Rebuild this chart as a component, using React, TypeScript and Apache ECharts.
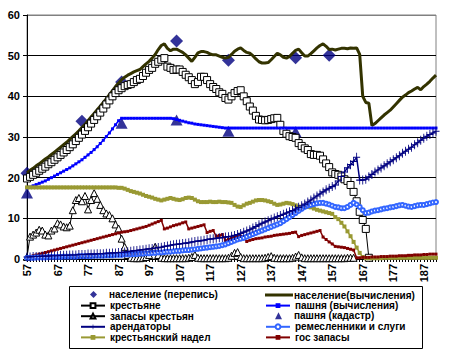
import React, { useEffect, useRef } from "react";
import * as echarts from "echarts";

const years: string[] = Array.from({ length: 135 }, (_, i) => String(57 + i));

// население (перепись)
const censusYears = ["57", "75", "88", "106", "123", "145", "156"];
const censusValues = [21.1, 33.9, 43.5, 53.6, 48.9, 49.5, 50.1];

// пашня (кадастр)
const cadastreYears = ["57", "88", "106", "123", "145"];
const cadastreValues = [16.2, 33.4, 34.2, 31.4, 31.3];

// население(вычисления)
const popCalc = [
  21.2, 21.8, 22.3, 22.9, 23.4, 24.0, 24.6, 25.1, 25.7, 26.3,
  26.9, 27.5, 28.1, 28.7, 29.4, 30.1, 30.8, 31.5, 32.3, 33.1,
  34.0, 34.9, 35.8, 36.7, 37.6, 38.5, 39.4, 40.4, 41.4, 42.4,
  43.3, 44.1, 44.7, 45.2, 45.6, 46.0, 46.3, 46.6, 47.3, 48.0,
  48.6, 49.4, 50.3, 51.5, 52.5, 52.9, 51.8, 51.2, 51.6, 51.6,
  51.2, 50.8, 50.2, 49.4, 48.6, 49.6, 50.7, 51.0, 51.0, 50.8,
  50.4, 50.2, 50.2, 49.9, 49.6, 49.4, 49.6, 50.3, 51.1, 51.6,
  51.9, 51.3, 50.8, 50.6, 50.0, 49.2, 48.5, 48.2, 48.2, 48.3,
  49.0, 49.8, 50.6, 50.2, 49.6, 49.4, 49.8, 50.6, 51.3, 51.6,
  50.7, 49.9, 49.9, 50.5, 51.2, 51.9, 52.5, 52.9, 52.3, 51.5,
  51.6, 51.4, 51.6, 51.8, 51.8, 51.7, 51.9, 51.8, 51.9, 50.3,
  40.0, 38.5, 38.3, 32.8, 33.3, 34.0, 34.7, 35.4, 36.0, 36.6,
  37.4, 38.2, 39.0, 39.8, 40.3, 40.9, 41.3, 41.8, 42.2, 41.6,
  42.4, 43.0, 43.7, 44.5, 45.2,
];

// крестьяне
const peasants: (number | null)[] = [
  19.8, 20.2, 20.7, 21.2, 21.7, 22.2, 22.7, 23.3, 23.8, 24.4,
  25.0, 25.6, 26.2, 26.8, 27.5, 28.2, 29.0, 29.8, 30.6, 31.5,
  32.4, 33.3, 34.2, 35.1, 36.0, 37.0, 38.0, 39.0, 40.0, 40.8,
  41.5, 42.0, 42.5, 42.8, 43.0, 43.5, 44.0, 44.3, 45.0, 45.8,
  46.5, 47.0, 48.0, 48.5, 49.0, 49.4, 47.3, 47.0, 46.5, 46.6,
  46.6, 46.0, 45.3, 44.7, 44.0, 43.0, 43.5, 44.8, 44.8, 44.0,
  43.0, 42.3, 41.8, 41.0, 40.6, 39.6, 39.2, 40.0, 40.8, 41.3,
  41.5, 40.0, 38.8, 37.5, 36.5, 35.2, 34.3, 34.2, 34.1, 34.2,
  34.4, 34.6, 34.7, 33.0, 31.5, 30.8, 30.2, 30.0, 29.8, 28.5,
  27.8, 27.2, 26.8, 25.8, 25.6, 25.6, 25.4, 24.5, 23.5, 22.6,
  21.3, 20.9, 20.7, 20.3, 19.6, 19.2, 18.2, 16.5, 14.2, 11.6,
  9.6, 7.4, 0.3,
];

// пашня (вычисления)
const plowCalc = [
  17.4, 17.7, 18.0, 18.3, 18.6, 18.9, 19.2, 19.6, 20.0, 20.4,
  20.8, 21.2, 21.6, 22.0, 22.4, 22.9, 23.4, 23.9, 24.4, 25.0,
  25.6, 26.2, 26.9, 27.6, 28.4, 29.2, 30.1, 31.0, 32.0, 33.0,
  34.0, 34.6, 34.6, 34.6, 34.6, 34.6, 34.6, 34.6, 34.6, 34.6,
  34.6, 34.6, 34.6, 34.6, 34.6, 34.6, 34.6, 34.6, 34.5, 34.3,
  34.1, 33.9, 33.7, 33.5, 33.4, 33.2, 33.1, 33.0, 32.9, 32.8,
  32.7, 32.6, 32.5, 32.4, 32.3, 32.2, 32.2, 32.2, 32.2, 32.2,
  32.2, 32.2, 32.2, 32.2, 32.2, 32.2, 32.2, 32.2, 32.2, 32.2,
  32.2, 32.2, 32.2, 32.2, 32.2, 32.2, 32.2, 32.2, 32.2, 32.2,
  32.2, 32.2, 32.2, 32.2, 32.2, 32.2, 32.2, 32.2, 32.2, 32.2,
  32.2, 32.2, 32.2, 32.2, 32.2, 32.2, 32.2, 32.2, 32.2, 32.2,
  32.2, 32.2, 32.2, 32.2, 32.2, 32.2, 32.2, 32.2, 32.2, 32.2,
  32.2, 32.2, 32.2, 32.2, 32.2, 32.2, 32.2, 32.2, 32.2, 32.2,
  32.2, 32.2, 32.2, 32.2, 32.2,
];

// запасы крестьян
const peasantStock: (number | null)[] = [
  0.5, 5.5, 6.0, 6.5, 7.2, 7.0, 6.0, 5.8, 7.0, 7.5,
  8.8, 8.5, 8.0, 7.8, 8.2, 12.0, 14.5, 15.0, 14.2, 15.5,
  12.2, 14.5, 16.2, 14.8, 13.3, 12.0, 11.2, 10.8, 10.0, 8.5,
  7.5, 5.0, 3.0, 1.0, 0.3, 0.2, 0.2, 0.2, 0.3, 0.5,
  1.0, 2.0, 3.0, 1.0, 0.3, 0.2, 0.2, 0.2, 0.2, 0.2,
  0.2, 0.2, 0.2, 0.3, 0.5, 1.0, 0.3, 0.2, 0.2, 0.2,
  0.2, 0.2, 0.2, 0.2, 0.2, 0.2, 0.3, 0.8, 1.5, 1.7,
  0.5, 0.2, 0.2, 0.2, 0.2, 0.2, 0.2, 0.2, 0.3, 0.5,
  0.7, 0.3, 0.2, 0.2, 0.2, 0.2, 0.2, 0.3, 0.6, 1.0,
  0.4, 0.2, 0.2, 0.2, 0.2, 0.2, 0.2, 0.2, 0.2, 0.2,
  0.2, 0.2, 0.2, 0.2, 0.2, 0.3, 0.3, 0.3,
];

// арендаторы
const tenants = [
  0.5, 0.5, 0.6, 0.6, 0.6, 0.7, 0.7, 0.7, 0.8, 0.8,
  0.8, 0.9, 0.9, 0.9, 1.0, 1.0, 1.0, 1.1, 1.1, 1.1,
  1.2, 1.2, 1.2, 1.3, 1.3, 1.3, 1.4, 1.4, 1.5, 1.5,
  1.6, 1.6, 1.7, 1.8, 1.9, 2.0, 2.1, 2.2, 2.3, 2.4,
  2.5, 2.6, 2.7, 2.8, 2.9, 3.1, 3.2, 3.4, 3.5, 3.6,
  3.7, 3.8, 3.9, 4.0, 4.2, 4.3, 4.4, 4.5, 4.6, 4.8,
  4.9, 5.0, 5.1, 5.2, 5.3, 5.4, 5.5, 5.6, 5.8, 6.0,
  6.3, 6.6, 6.9, 7.2, 7.6, 8.0, 8.4, 8.8, 9.1, 9.4,
  9.8, 10.1, 10.4, 10.7, 11.0, 11.3, 11.6, 11.9, 12.3, 12.7,
  13.1, 13.5, 14.0, 14.5, 15.0, 15.5, 16.0, 16.5, 17.0, 17.4,
  17.8, 18.2, 19.2, 20.3, 21.4, 22.4, 23.2, 24.0, 25.0, 19.4,
  19.4, 19.6, 20.2, 20.8, 21.4, 21.9, 22.4, 22.9, 23.4, 23.9,
  24.4, 24.9, 25.4, 26.0, 26.5, 27.0, 27.5, 28.1, 28.6, 29.2,
  29.7, 30.2, 30.6, 31.0, 31.4,
];

// ремесленники и слуги
const crafts = [
  0.3, 0.3, 0.3, 0.4, 0.4, 0.4, 0.4, 0.5, 0.5, 0.5,
  0.5, 0.5, 0.6, 0.6, 0.6, 0.6, 0.6, 0.7, 0.7, 0.7,
  0.7, 0.7, 0.8, 0.8, 0.8, 0.8, 0.9, 0.9, 0.9, 1.0,
  1.0, 1.0, 1.1, 1.1, 1.1, 1.2, 1.2, 1.3, 1.3, 1.4,
  1.4, 1.5, 1.5, 1.6, 1.6, 1.7, 1.8, 1.8, 1.9, 2.0,
  2.0, 2.1, 2.2, 2.2, 2.3, 2.4, 2.5, 2.6, 2.7, 2.8,
  2.9, 3.0, 3.1, 3.2, 3.4, 3.6, 3.9, 4.2, 4.5, 4.8,
  5.0, 5.2, 5.5, 5.8, 6.1, 6.4, 6.7, 7.0, 7.3, 7.6,
  7.9, 8.2, 8.5, 8.8, 9.3, 9.8, 10.3, 10.8, 11.3, 11.8,
  12.3, 12.8, 13.1, 13.3, 13.5, 13.7, 13.8, 13.8, 13.6, 13.4,
  13.1, 12.8, 12.7, 12.5, 12.5, 12.8, 13.3, 13.8, 13.4, 12.8,
  12.0, 11.3, 11.4, 11.7, 11.9, 12.0, 12.2, 12.4, 12.5, 12.7,
  12.8, 13.0, 13.2, 13.3, 13.1, 12.9, 12.8, 13.0, 13.2, 13.3,
  13.3, 13.5, 13.7, 13.9, 14.0,
];

// крестьянский надел
const allotment = [
  17.6, 17.6, 17.6, 17.6, 17.6, 17.6, 17.6, 17.6, 17.6, 17.6,
  17.6, 17.6, 17.6, 17.6, 17.6, 17.6, 17.6, 17.6, 17.6, 17.6,
  17.6, 17.6, 17.6, 17.6, 17.6, 17.6, 17.6, 17.6, 17.6, 17.6,
  17.5, 17.5, 17.3, 17.0, 16.7, 16.5, 16.3, 16.1, 15.8, 15.5,
  15.3, 15.1, 14.8, 14.6, 14.4, 14.6, 14.8, 15.0, 14.8, 14.6,
  14.5, 14.7, 15.0, 15.1, 15.0, 14.6, 14.2, 14.0, 14.0, 14.0,
  14.1, 14.0, 14.0, 14.1, 14.0, 14.0, 13.9, 13.8, 13.3, 12.9,
  12.8, 13.2, 13.6, 13.8, 14.1, 14.4, 14.5, 14.5, 14.4, 14.2,
  14.0, 13.6, 13.3, 13.4, 13.6, 13.8, 13.7, 13.5, 13.2, 12.9,
  12.8, 12.8, 12.8, 12.7, 12.4, 12.1, 11.9, 11.7, 11.5, 11.3,
  11.1, 10.3, 9.8, 8.9, 8.0, 6.8, 5.6, 4.2, 2.8, 1.5,
  0.5, 0.2, 0.2, 0.2, 0.2, 0.2, 0.2, 0.3, 0.3, 0.3,
  0.3, 0.3, 0.3, 0.3, 0.3, 0.3, 0.3, 0.3, 0.3, 0.3,
  0.3, 0.3, 0.3, 0.3, 0.3,
];

// гос запасы
const stateStock = [
  0.5, 0.6, 0.8, 1.0, 1.2, 1.4, 1.6, 1.8, 2.0, 2.2,
  2.4, 2.6, 2.8, 3.0, 3.2, 3.4, 3.6, 3.8, 4.0, 4.2,
  4.4, 4.6, 4.8, 5.0, 5.2, 5.4, 5.6, 5.8, 6.0, 6.2,
  6.4, 6.6, 6.7, 6.8, 7.0, 7.2, 7.4, 7.6, 7.8, 8.0,
  8.3, 8.6, 8.9, 9.2, 9.5, 7.4, 7.6, 7.9, 8.2, 8.4,
  8.6, 8.9, 9.1, 7.4, 7.6, 7.8, 8.0, 8.2, 8.4, 6.5,
  6.8, 7.0, 5.6, 5.8, 6.0, 4.5, 4.8, 5.1, 5.3, 5.5,
  5.6, 5.5, 4.3, 4.6, 4.8, 5.0, 5.1, 5.2, 5.4, 5.5,
  5.6, 5.8, 5.9, 6.0, 6.1, 6.2, 6.3, 6.5, 6.6, 5.5,
  5.8, 6.0, 6.2, 6.4, 6.6, 6.8, 7.0, 5.4, 4.8, 4.2,
  3.7, 3.1, 3.0, 2.9, 2.8, 2.6, 2.4, 2.2, 0.3, 0.3,
  0.4, 0.4, 0.4, 0.5, 0.5, 0.5, 0.6, 0.6, 0.6, 0.7,
  0.7, 0.7, 0.8, 0.8, 0.8, 0.9, 0.9, 1.0, 1.0, 1.0,
  1.1, 1.1, 1.2, 1.2, 1.2,
];

const legendCol1 = ["население (перепись)", "крестьяне", "запасы крестьян", "арендаторы", "крестьянский надел"];
const legendCol2 = ["население(вычисления)", "пашня (вычисления)", "пашня (кадастр)", "ремесленники и слуги", "гос запасы"];
const scatterNames = ["население (перепись)", "пашня (кадастр)"];
const thickLineName = "население(вычисления)";

const FONT = "'Liberation Sans', Arial, sans-serif";
const PLUS = "path://M0,4.4H10V5.6H0Z M4.4,0H5.6V10H4.4Z";

export default function App() {
  const ref = useRef<HTMLDivElement>(null);
  useEffect(() => {
    document.body.style.margin = "0";
    const chart = echarts.init(ref.current!, null, { renderer: "svg" });
    const legendText = { fontSize: 10, fontWeight: "bold" as const, fontFamily: FONT, color: "#000" };
    const rowTop = (i: number) => 290 + i * 10.6;
    const makeLegend = (name: string, i: number, left: number) => {
      const isScatter = scatterNames.includes(name);
      if (name === thickLineName) {
        return {
          left, top: rowTop(i), itemWidth: 28, itemHeight: 3, padding: 0,
          data: [{ name, icon: "rect" }], textStyle: { ...legendText, padding: [0, 0, 0, -4] },
          selectedMode: false,
        };
      }
      const size = isScatter ? 7 : 6;
      return {
        left: isScatter ? left + 10 : left,
        top: rowTop(i) + (isScatter ? -0.5 : 0),
        itemWidth: isScatter ? size : 24,
        itemHeight: size,
        padding: 0,
        data: [name],
        textStyle: isScatter ? { ...legendText, padding: [0, 0, 0, 7] } : legendText,
        selectedMode: false,
      };
    };
    const legends = [
      ...legendCol1.map((name, i) => makeLegend(name, i, 80)),
      ...legendCol2.map((name, i) => makeLegend(name, i, 265)),
    ];
    chart.setOption({
      animation: false,
      backgroundColor: "#fff",
      grid: { left: 27, right: 13, top: 15, bottom: 93, show: true, borderColor: "#808080", borderWidth: 1 },
      xAxis: {
        type: "category",
        data: years,
        boundaryGap: false,
        axisLine: { lineStyle: { color: "#000", width: 1 } },
        axisTick: { interval: 0, length: 3, lineStyle: { color: "#000" } },
        axisLabel: { interval: 9, rotate: 90, margin: 5, fontSize: 11, fontWeight: "bold", fontFamily: FONT, color: "#000" },
        splitLine: { show: false },
      },
      yAxis: {
        type: "value",
        min: 0,
        max: 60,
        interval: 10,
        axisLine: { show: true, lineStyle: { color: "#000" } },
        axisTick: { show: true, length: 4, lineStyle: { color: "#000" } },
        axisLabel: { margin: 7, fontSize: 11, fontWeight: "bold", fontFamily: FONT, color: "#000" },
        splitLine: { lineStyle: { color: ["#000", "#000", "#000", "#000", "#000", "#000", "#808080"], width: 1 } },
      },
      legend: legends,
      graphic: [
        { type: "rect", left: 67, top: 284, shape: { width: 353, height: 62 }, style: { fill: "none", stroke: "#000", lineWidth: 1 } },
      ],
      series: [
        {
          name: "население(вычисления)", type: "line", data: popCalc, showSymbol: false, symbol: "none",
          lineStyle: { color: "#333300", width: 3 }, itemStyle: { color: "#333300" },
        },
        {
          name: "крестьяне", type: "line", data: peasants, symbol: "rect", symbolSize: 7, showAllSymbol: true,
          lineStyle: { color: "#000", width: 1 }, itemStyle: { color: "#fff", borderColor: "#000", borderWidth: 1 },
        },
        {
          name: "пашня (вычисления)", type: "line", data: plowCalc, symbol: "rect", symbolSize: 3, showAllSymbol: true,
          lineStyle: { color: "#0000ff", width: 1.5 }, itemStyle: { color: "#0000ff" },
        },
        {
          name: "запасы крестьян", type: "line", data: peasantStock, symbol: "triangle", symbolSize: [7, 7], showAllSymbol: true,
          lineStyle: { color: "#000", width: 1 }, itemStyle: { color: "#fff", borderColor: "#000", borderWidth: 1 },
        },
        {
          name: "крестьянский надел", type: "line", data: allotment, symbol: "rect", symbolSize: 4, showAllSymbol: true,
          lineStyle: { color: "#999933", width: 1.5 }, itemStyle: { color: "#999933" },
        },
        {
          name: "гос запасы", type: "line", data: stateStock, symbol: "rect", symbolSize: 3, showAllSymbol: true,
          lineStyle: { color: "#800000", width: 1.5 }, itemStyle: { color: "#800000" },
        },
        {
          name: "ремесленники и слуги", type: "line", data: crafts, symbol: "emptyCircle", symbolSize: 4, showAllSymbol: true,
          lineStyle: { color: "#3366ff", width: 1 }, itemStyle: { color: "#3366ff", borderColor: "#3366ff", borderWidth: 1 },
        },
        {
          name: "арендаторы", type: "line", data: tenants, symbol: PLUS, symbolSize: [7, 9], showAllSymbol: true,
          lineStyle: { color: "#000080", width: 1.5 }, itemStyle: { color: "#000080" },
        },
        {
          name: "население (перепись)", type: "scatter", symbol: "diamond", symbolSize: 13,
          data: censusYears.map((y, i) => [y, censusValues[i]]), itemStyle: { color: "#000080" },
        },
        {
          name: "пашня (кадастр)", type: "scatter", symbol: "triangle", symbolSize: [12, 11],
          data: cadastreYears.map((y, i) => [y, cadastreValues[i]]), itemStyle: { color: "#000080" },
        },
      ],
    });
    return () => chart.dispose();
  }, []);
  return <div ref={ref} style={{ width: 449, height: 352 }} />;
}
